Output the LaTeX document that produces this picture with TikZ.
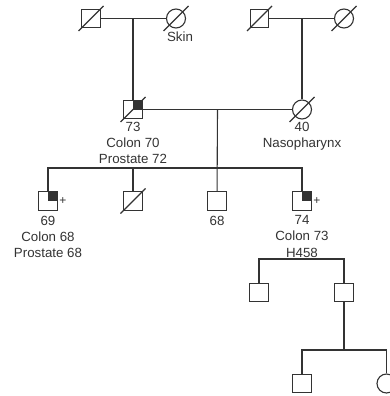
\documentclass[tikz,border=0pt]{standalone}
\usepackage{fontspec}
\setmainfont{Liberation Sans}
\usetikzlibrary{calc,positioning}

\tikzset{
  male/.style={draw, rectangle, minimum size=18.5pt, inner sep=0pt},
  female/.style={draw, circle, minimum size=19pt, inner sep=0pt},
  affected/.style={path picture={\fill (path picture bounding box.center) rectangle (path picture bounding box.north east);}},
  lbl/.style={align=center, font=\fontsize{13.3}{16.3}\selectfont, inner sep=1pt},
  carrier/.style={label={[font=\fontsize{12}{14}\selectfont, inner sep=1pt]right:+}}
}
\newcommand\deceased[1]{\draw ($(#1.center)+(-12.5,12.5)$) -- ($(#1.center)+(12.5,-12.5)$);}

\begin{document}
\begin{tikzpicture}[x=1pt, y=-1pt, line width=1.1pt, color=black!80]
    \useasboundingbox (0,0) rectangle (390,396);
    % grandparents
    \node[male] (gf1) at (91,18.5) {};
    \node[female] (gm1) at (176,18.5) {};
    \node[male] (gf2) at (259.5,18.5) {};
    \node[female] (gm2) at (344,18.5) {};
    \node[lbl, below=2pt of gm1, xshift=4pt] (tskin) {Skin};
    \draw (gf1) -- (gm1);
    \draw (gf2) -- (gm2);
    % parents
    \node[male, affected] (p73) at (133,109.5) {};
    \node[female] (p40) at (302,109.5) {};
    \draw (p73) -- (p73 |- gf1);
    \draw (p40) -- (p40 |- gf2);
    \draw (p73) -- (p40);
    \node[lbl, below=1pt of p73] (t73) {73\\Colon 70\\Prostate 72};
    \node[lbl, below=1pt of p40] (t40) {40\\Nasopharynx};
    \foreach \n in {gf1,gm1,gf2,gm2,p73,p40}{\deceased{\n}}
    % children
    \coordinate (m1) at ($(p73)!0.5!(p40)$);
    \coordinate (sib1) at (217,168);
    \node[male, affected, carrier] (c69) at (48,201) {};
    \node[male] (c2) at (133,201) {};
    \node[male] (c68) at (217,201) {};
    \node[male, affected, carrier] (c74) at (302,201) {};
    \draw (m1) -- (c68);
    \draw (c69) |- (sib1) -| (c74);
    \draw (c2) -- (c2 |- sib1);
    \deceased{c2}
    \node[lbl, below=3.5pt of c69] (t69) {69\\Colon 68\\Prostate 68};
    \node[lbl, below=3.5pt of c68] (t68) {68};
    \node[lbl, below=3pt of c74] (t74) {74\\Colon 73\\H458};
    % grandchildren
    \coordinate (sib2) at (302,259);
    \node[male] (g1) at (259,292.5) {};
    \node[male] (g2) at (344,292.5) {};
    \draw (t74) -- (sib2);
    \draw (g1) |- (sib2) -| (g2);
    % great-grandchildren
    \coordinate (sib3) at (344,350);
    \node[male] (h1) at (302,383.5) {};
    \node[female] (h2) at (386.5,383.5) {};
    \draw (g2) -- (sib3);
    \draw (h1) |- (sib3) -| (h2);
\end{tikzpicture}
\end{document}
